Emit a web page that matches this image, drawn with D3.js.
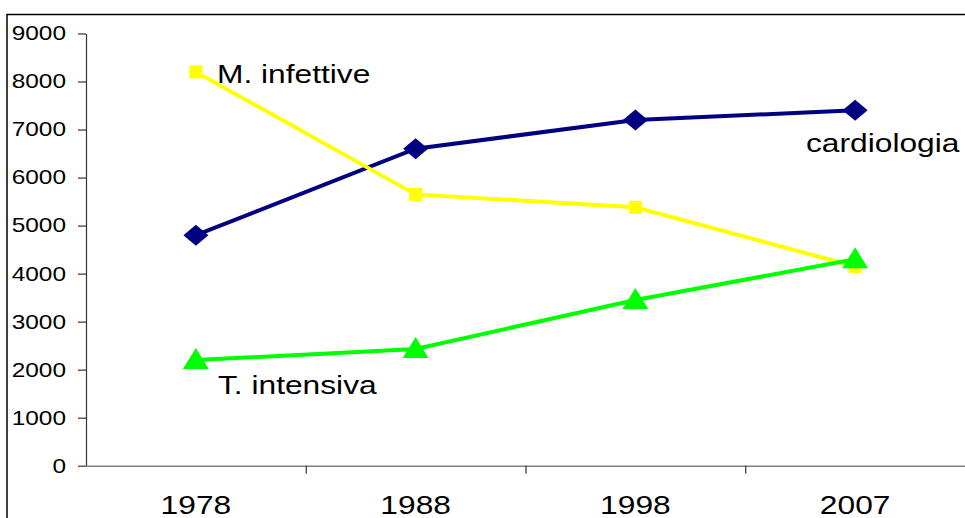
<!DOCTYPE html>
<html>
<head>
<meta charset="utf-8">
<script src="https://cdn.jsdelivr.net/npm/d3@7"></script>
<style>
  body { margin: 0; background: #fff; }
  text { font-family: "Liberation Sans", Arial, sans-serif; fill: #000; }
</style>
</head>
<body>
<script>
// data
var years = ['1978', '1988', '1998', '2007'];
var cardiologia = [4800, 6600, 7200, 7400];
var infettive = [8200, 5650, 5380, 4150];
var intensiva = [2200, 2430, 3450, 4300];
var yTicks = [0, 1000, 2000, 3000, 4000, 5000, 6000, 7000, 8000, 9000];

var width = 965, height = 518;
var plotLeft = 86, plotRight = 965, plotTop = 33.5, plotBottom = 465.7;
var stretch = 1.22; // the original text is widened horizontally

var svg = d3.select('body').append('svg').attr('width', width).attr('height', height)

// outer frame of the chart object
svg.append('rect').attr('x', 7).attr('y', 14.5).attr('width', 1000).attr('height', 600)
   .attr('fill', 'none').attr('stroke', '#000').attr('stroke-width', 1.5)

var x = d3.scaleBand().domain(years).range([plotLeft, plotRight])
var xEdges = d3.scaleLinear().domain([0, years.length]).range([plotLeft, plotRight])
var y = d3.scaleLinear().domain([0, 9000]).range([plotBottom, plotTop])

// y axis
var yAx = svg.append('g').attr('transform', 'translate(' + plotLeft + ',0)')
   .call(d3.axisLeft(y).tickValues(yTicks).tickFormat(d3.format('d')).tickSize(8).tickSizeOuter(0))
yAx.select('.domain').attr('stroke', '#333').attr('stroke-width', 1.2)
yAx.selectAll('line').attr('stroke', '#333').attr('stroke-width', 1.2)
yAx.selectAll('text').attr('font-size', 20).attr('fill', '#000')
   .attr('x', -20 / stretch).attr('transform', 'scale(' + stretch + ',1)')

// x axis: ticks on category edges, labels in the middle
var xAx = svg.append('g').attr('transform', 'translate(0,' + plotBottom + ')')
   .call(d3.axisBottom(xEdges).tickValues(d3.range(years.length + 1)).tickFormat('').tickSize(8).tickSizeOuter(0))
xAx.select('.domain').attr('stroke', '#808080').attr('stroke-width', 1.5)
xAx.selectAll('line').attr('stroke', '#333').attr('stroke-width', 1.2)
xAx.selectAll('.tick').filter(d => d == 0 || d == years.length).remove()

var xLab = svg.append('g').attr('transform', 'translate(0,' + plotBottom + ')')
   .call(d3.axisBottom(x).tickSize(0).tickPadding(30))
xLab.select('.domain').remove()
xLab.selectAll('.tick text').attr('font-size', 26).attr('fill', '#000')
   .attr('transform', 'scale(' + stretch + ',1)')

var cx = d => x(d) + x.bandwidth() / 2
var line = d3.line().x((d, i) => cx(years[i])).y(d => y(d))

// cardiologia
svg.append('path').attr('d', line(cardiologia)).attr('fill', 'none')
   .attr('stroke', '#000080').attr('stroke-width', 4)
svg.selectAll('.diam').data(cardiologia).enter().append('path')
   .attr('d', 'M0,-10.5L12.5,0L0,10.5L-12.5,0Z')
   .attr('transform', (d, i) => 'translate(' + cx(years[i]) + ',' + y(d) + ')')
   .attr('fill', '#000080')

// M. infettive
svg.append('path').attr('d', line(infettive)).attr('fill', 'none')
   .attr('stroke', '#ffff00').attr('stroke-width', 4)
svg.selectAll('.sq').data(infettive).enter().append('rect')
   .attr('x', (d, i) => cx(years[i]) - 6.5).attr('y', d => y(d) - 6.5)
   .attr('width', 13).attr('height', 13).attr('fill', '#ffff00')

// T. intensiva
svg.append('path').attr('d', line(intensiva)).attr('fill', 'none')
   .attr('stroke', '#00ff00').attr('stroke-width', 4)
svg.selectAll('.tri').data(intensiva).enter().append('path')
   .attr('d', 'M0,-12L13,9L-13,9Z')
   .attr('transform', (d, i) => 'translate(' + cx(years[i]) + ',' + y(d) + ')')
   .attr('fill', '#00ff00')

// series labels
function label(txt, lx, ly) {
    svg.append('text').attr('font-size', 26)
       .attr('transform', 'translate(' + lx + ',' + ly + ') scale(' + stretch + ',1)')
       .text(txt)
}
label('M. infettive', 217, 83)
label('cardiologia', 806, 152)
label('T. intensiva', 218, 394)
</script>
</body>
</html>
